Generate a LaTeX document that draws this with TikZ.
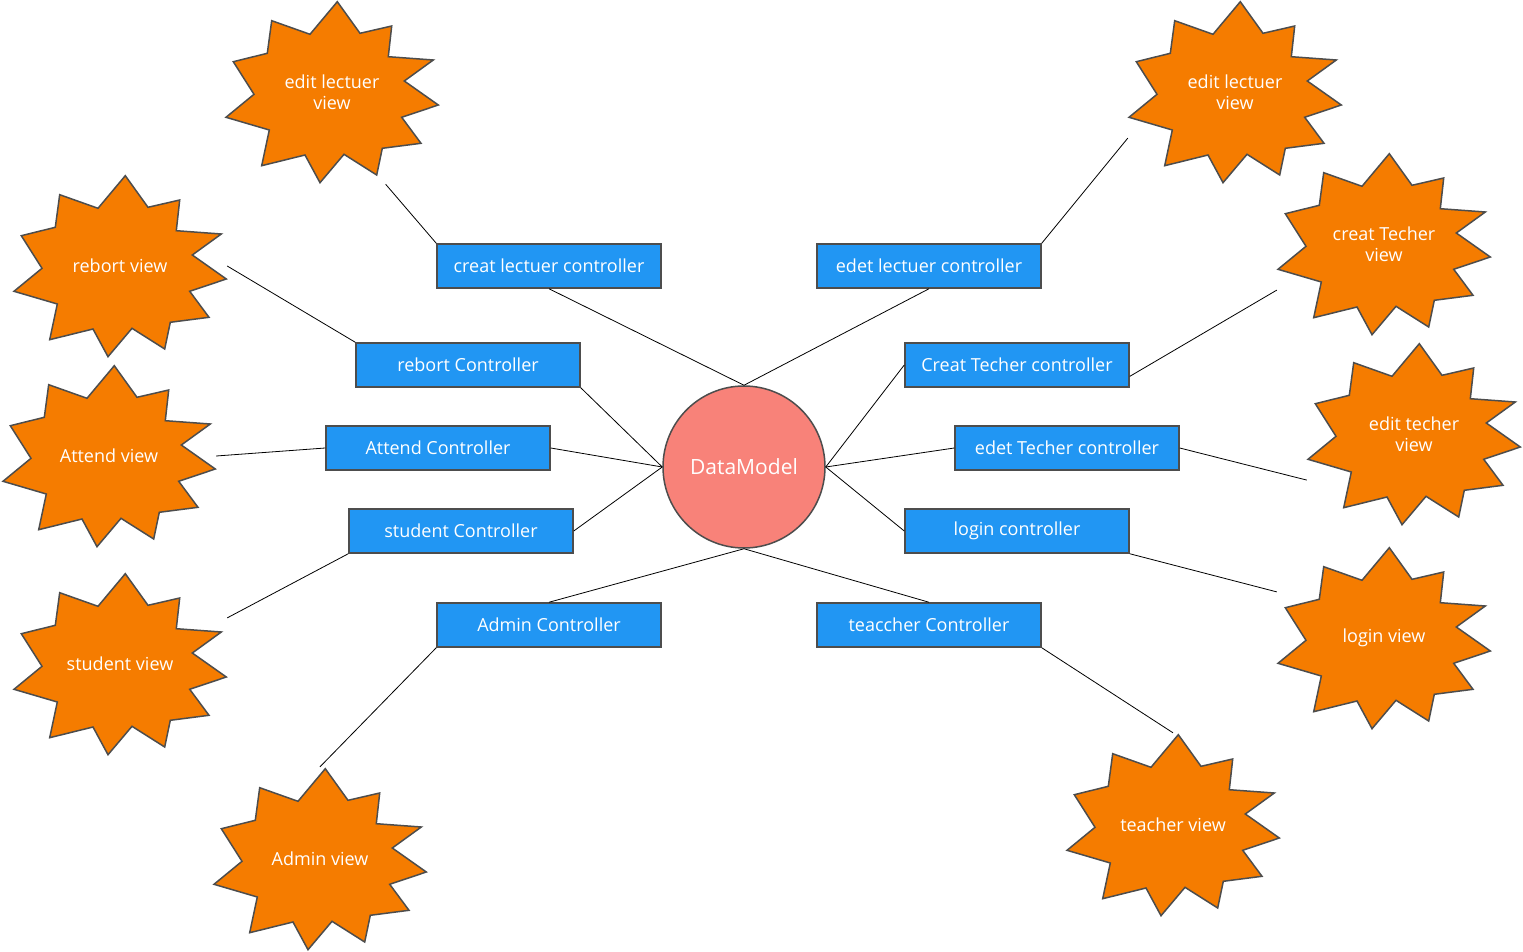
\documentclass[tikz,border=0pt]{standalone}
\usepackage{fontspec}
\setmainfont{Open Sans}
\usetikzlibrary{calc, positioning}
\definecolor{BurstOrange}{RGB}{245, 124, 0}
\definecolor{BoxBlue}{RGB}{33, 150, 243}
\definecolor{ModelRed}{RGB}{248, 130, 121}
\definecolor{EdgeGrey}{RGB}{77, 77, 77}

\tikzset{
	ctrl/.style={shape=rectangle, draw=EdgeGrey, fill=BoxBlue, line width=1.5pt, minimum width=224pt, minimum height=44pt, inner sep=0pt, text=white, font=\fontsize{18}{21}\selectfont},
	model/.style={shape=circle, draw=EdgeGrey, fill=ModelRed, line width=1.5pt, minimum size=162pt, inner sep=0pt, text=white, font=\fontsize{21}{25}\selectfont},
	view/.style={shape=rectangle, minimum width=214pt, minimum height=184pt, inner sep=0pt, text=white, align=center, font=\fontsize{18}{21}\selectfont},
	burst/.pic={\draw[draw=EdgeGrey, fill=BurstOrange, line width=1.5pt]
			(5.3pt,90.3pt) -- (28pt,58.7pt) -- (59.7pt,66pt) -- (56.3pt,35.3pt) -- (101.3pt,32pt) -- (72.3pt,11pt)
			-- (106.3pt,-13pt) -- (69.7pt,-25.3pt) -- (89pt,-51.3pt) -- (50.3pt,-56.3pt) -- (44.7pt,-83pt) -- (12pt,-62.3pt)
			-- (-12pt,-90.7pt) -- (-27pt,-63pt) -- (-70.3pt,-73.7pt) -- (-62.7pt,-38pt) -- (-106pt,-25.3pt) -- (-78pt,-2.3pt)
			-- (-98.7pt,30.3pt) -- (-64.7pt,38.7pt) -- (-60.3pt,71.3pt) -- (-22pt,57.7pt) -- cycle;},
	link/.style={draw=black, line width=0.8pt}
}

\begin{document}
\begin{tikzpicture}[x=1pt, y=-1pt]
		\useasboundingbox (0,0) rectangle (1523,952);
		
		% Model
		\node[model] (model) at (744,467) {DataModel};
		
		% Controllers
		\node[ctrl] (clc) at (549,266) {creat lectuer controller};
		\node[ctrl] (elc) at (929,266) {edet lectuer controller};
		\node[ctrl] (rc) at (468,365) {rebort Controller};
		\node[ctrl] (ctc) at (1017,365) {Creat Techer controller};
		\node[ctrl] (ac) at (438,448) {Attend Controller};
		\node[ctrl] (etc) at (1067,448) {edet Techer controller};
		\node[ctrl] (sc) at (461,531) {student Controller};
		\node[ctrl] (lc) at (1017,531) {login controller};
		\node[ctrl] (adc) at (549,625) {Admin Controller};
		\node[ctrl] (tc) at (929,625) {teaccher Controller};
		
		% Views
		\foreach \name/\pos/\txt in {elvl/{(332,92)}/{edit lectuer\\view}, elvr/{(1235,92)}/{edit lectuer\\view},
			rv/{(120,266)}/{rebort view}, ctv/{(1384,244)}/{creat Techer\\view}, av/{(109,456)}/{Attend view},
			etv/{(1414,434)}/{edit techer\\view}, sv/{(120,664)}/{student view}, lv/{(1384,638)}/{login view},
			adv/{(320,859)}/{Admin view}, tv/{(1173,825)}/{teacher view}}{
			\pic at \pos {burst};
			\node[view] (\name) at \pos {\txt};
		}
		
		% controllers to model
		\path[link] (clc.south) -- (model.north);
		\path[link] (elc.south) -- (model.north);
		\path[link] (rc.south east) -- (model.west);
		\path[link] (ac.east) -- (model.west);
		\path[link] (sc.east) -- (model.west);
		\path[link] (adc.north) -- (model.south);
		\path[link] (tc.north) -- (model.south);
		\path[link] (ctc.west) -- (model.east);
		\path[link] (etc.west) -- (model.east);
		\path[link] (lc.west) -- (model.east);
		
		% views to controllers
		\path[link] ($(elvl.south)!0.5!(elvl.south east)$) -- (clc.north west);
		\path[link] ($(elvr.west)!0.5!(elvr.south west)$) -- (elc.north east);
		\path[link] (rv.east) -- (rc.north west);
		\path[link] ($(ctv.west)!0.5!(ctv.south west)$) -- ($(ctc.east)!0.5!(ctc.south east)$);
		\path[link] (av.east) -- (ac.west);
		\path[link] ($(etv.west)!0.5!(etv.south west)$) -- (etc.east);
		\path[link] ($(sv.east)!0.5!(sv.north east)$) -- (sc.south west);
		\path[link] ($(lv.west)!0.5!(lv.north west)$) -- (lc.south east);
		\path[link] (adv.north) -- (adc.south west);
		\path[link] (tv.north) -- (tc.south east);
	\end{tikzpicture}
\end{document}
